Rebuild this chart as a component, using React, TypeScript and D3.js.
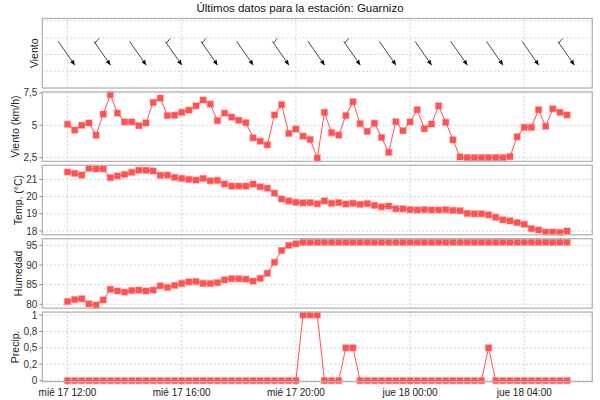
import React from "react";
import * as d3 from "d3";

// ---------- DATA ----------
const startTime = new Date(2024, 0, 17, 12, 0);
const stepMinutes = 15;

const windSpeed = [
  5.08, 4.63, 5.0, 5.18, 4.24, 5.86, 7.37, 5.94, 5.26, 5.26,
  4.97, 5.18, 6.77, 7.1, 5.75, 5.78, 6.0, 6.17, 6.5, 6.95,
  6.64, 5.36, 5.94, 5.63, 5.39, 5.2, 4.03, 3.77, 3.49, 5.8,
  6.59, 4.37, 4.71, 4.16, 3.9, 2.47, 6.0, 4.43, 4.24, 5.75,
  6.82, 5.13, 4.53, 5.16, 4.06, 2.91, 5.28, 4.58, 5.26, 6.2,
  4.74, 5.1, 6.5, 5.23, 3.88, 2.55, 2.5, 2.5, 2.5, 2.5,
  2.5, 2.5, 2.58, 4.11, 4.84, 4.84, 6.2, 4.92, 6.27, 6.0, 5.8,
];

const temperature = [
  21.43, 21.35, 21.25, 21.65, 21.61, 21.61, 21.1, 21.2, 21.29, 21.41,
  21.53, 21.53, 21.49, 21.24, 21.25, 21.12, 21.06, 21.0, 20.96, 21.06,
  20.92, 20.94, 20.73, 20.61, 20.61, 20.61, 20.73, 20.57, 20.49, 20.2,
  19.86, 19.75, 19.67, 19.64, 19.65, 19.58, 19.75, 19.61, 19.65, 19.57,
  19.61, 19.55, 19.59, 19.49, 19.41, 19.45, 19.29, 19.29, 19.24, 19.22,
  19.24, 19.22, 19.22, 19.24, 19.2, 19.18, 19.02, 19.0, 19.0, 18.94,
  18.8, 18.65, 18.59, 18.49, 18.39, 18.14, 18.06, 17.94, 17.94, 17.92, 18.0,
];

const humidity = [
  80.7, 81.2, 81.4, 80.1, 79.8, 81.1, 83.8, 83.4, 83.1, 83.5,
  83.6, 83.4, 83.6, 84.7, 84.3, 84.8, 85.3, 85.7, 85.8, 85.3,
  85.3, 85.5, 86.2, 86.5, 86.5, 86.4, 85.9, 86.6, 87.9, 90.7,
  93.7, 95.0, 95.4, 95.8, 95.8, 95.8, 95.8, 95.8, 95.8, 95.8,
  95.8, 95.8, 95.8, 95.8, 95.8, 95.8, 95.8, 95.8, 95.8, 95.8,
  95.8, 95.8, 95.8, 95.8, 95.8, 95.8, 95.8, 95.8, 95.8, 95.8,
  95.8, 95.8, 95.8, 95.8, 95.8, 95.8, 95.8, 95.8, 95.8, 95.8, 95.8,
];

const precipitation = [
  0, 0, 0, 0, 0, 0, 0, 0, 0, 0,
  0, 0, 0, 0, 0, 0, 0, 0, 0, 0,
  0, 0, 0, 0, 0, 0, 0, 0, 0, 0,
  0, 0, 0, 1, 1, 1, 0, 0, 0, 0.5,
  0.5, 0, 0, 0, 0, 0, 0, 0, 0, 0,
  0, 0, 0, 0, 0, 0, 0, 0, 0, 0.5,
  0, 0, 0, 0, 0, 0, 0, 0, 0, 0, 0,
];

// wind direction (degrees, "from") at every 5th observation
const windDirection = [325, 325, 325, 325, 325, 325, 325, 325, 325, 325, 325, 325, 325, 325, 325];
const barbEvery = 5;

const xTickTimes = [
  new Date(2024, 0, 17, 12, 0),
  new Date(2024, 0, 17, 16, 0),
  new Date(2024, 0, 17, 20, 0),
  new Date(2024, 0, 18, 0, 0),
  new Date(2024, 0, 18, 4, 0),
];
const xTickLabels = ["mié 17 12:00", "mié 17 16:00", "mié 17 20:00", "jue 18 00:00", "jue 18 04:00"];

const title = "Últimos datos para la estación: Guarnizo";

const windTicks = [2.5, 5, 7.5];
const windTickLabels = ["2,5", "5", "7,5"];
const tempTicks = [18, 19, 20, 21];
const tempTickLabels = ["18", "19", "20", "21"];
const humTicks = [80, 85, 90, 95];
const humTickLabels = ["80", "85", "90", "95"];
const precTicks = [0, 0.25, 0.5, 0.75, 1];
const precTickLabels = ["0", "0,2", "0,5", "0,8", "1"];
const barbGridTicks = [1, 2, 3, 4];

// ---------- LAYOUT ----------
const W = 600;
const H = 400;
const left = 42.3;
const right = 592.3;
const top0 = 18.5;
const panelStep = 73.4;
const panelH = 69.5;
const FONT = "'Liberation Sans', Arial, sans-serif";
const RED = "#ff5252";
const GRID = "#d4d4d4";
const BORDER = "#b4b4b4";

const times = windSpeed.map((_, i) => new Date(startTime.getTime() + i * stepMinutes * 60000));
const pad = 53 * 60000;
const x = d3
  .scaleTime()
  .domain([new Date(times[0].getTime() - pad), new Date(times[times.length - 1].getTime() + pad)])
  .range([left, right]);

type Panel = {
  label: string;
  labelX: number;
  domain: [number, number];
  ticks: number[];
  tickLabels: string[];
  values?: number[];
};

const panels: Panel[] = [
  { label: "Viento", labelX: 34.5, domain: [0, 4.15], ticks: barbGridTicks, tickLabels: [] },
  { label: "Viento (km/h)", labelX: 15.5, domain: [2.21, 7.58], ticks: windTicks, tickLabels: windTickLabels, values: windSpeed },
  { label: "Temp. (°C)", labelX: 18.5, domain: [17.78, 21.82], ticks: tempTicks, tickLabels: tempTickLabels, values: temperature },
  { label: "Humedad", labelX: 18.5, domain: [79.0, 96.7], ticks: humTicks, tickLabels: humTickLabels, values: humidity },
  { label: "Precip.", labelX: 15.5, domain: [-0.015, 1.045], ticks: precTicks, tickLabels: precTickLabels, values: precipitation },
];

function PanelView({ p, idx }: { p: Panel; idx: number }) {
  const top = top0 + idx * panelStep;
  const bottom = top + panelH;
  const y = d3.scaleLinear().domain(p.domain).range([bottom, top]);
  const line = d3
    .line<number>()
    .x((_, i) => x(times[i]))
    .y((d) => y(d));
  const midY = (top + bottom) / 2;
  return (
    <g>
      {/* grid */}
      {p.ticks.map((t, i) => (
        <line key={"h" + i} x1={left} x2={right} y1={y(t)} y2={y(t)} stroke={GRID} strokeWidth={1} strokeDasharray="2,2" />
      ))}
      {xTickTimes.map((t, i) => (
        <line key={"v" + i} x1={x(t)} x2={x(t)} y1={top} y2={bottom} stroke={GRID} strokeWidth={1} strokeDasharray="2,2" />
      ))}
      {/* y tick labels */}
      {p.tickLabels.map((lab, i) => (
        <g key={"t" + i}>
          <line x1={left - 3} x2={left} y1={y(p.ticks[i])} y2={y(p.ticks[i])} stroke="#888" strokeWidth={1} />
          <text x={left - 5} y={y(p.ticks[i])} dy="0.35em" textAnchor="end" fontSize={10} fontFamily={FONT} fill="#333">
            {lab}
          </text>
        </g>
      ))}
      {/* axis label */}
      <text
        transform={`translate(${p.labelX},${midY}) rotate(-90)`}
        textAnchor="middle"
        dy="0.35em"
        fontSize={10.5}
        fontFamily={FONT}
        fill="#222"
      >
        {p.label}
      </text>
      {/* series */}
      {p.values && (
        <g>
          <path d={line(p.values) || ""} fill="none" stroke={RED} strokeWidth={1} />
          {p.values.map((v, i) => (
            <rect
              key={i}
              x={x(times[i]) - 3}
              y={y(v) - 3}
              width={6}
              height={6}
              fill={RED}
              stroke="rgba(255,82,82,0.35)"
              strokeWidth={1.5}
            />
          ))}
        </g>
      )}
      {/* wind barbs */}
      {!p.values &&
        windDirection.map((dir, k) => {
          const i = k * barbEvery;
          const cx = x(times[i]) - 1;
          const cy = midY;
          const toward = ((dir + 180) * Math.PI) / 180;
          const ux = Math.sin(toward);
          const uy = -Math.cos(toward);
          const L = 29;
          const tx = cx - (ux * L) / 2;
          const ty = cy - (uy * L) / 2;
          const hx = cx + (ux * L) / 2;
          const hy = cy + (uy * L) / 2;
          const px = -uy;
          const py = ux;
          const ah = 5;
          const aw = 2.2;
          const head = `M${hx},${hy} L${hx - ux * ah + px * aw},${hy - uy * ah + py * aw} L${hx - ux * ah - px * aw},${hy - uy * ah - py * aw} Z`;
          const hasTick = windSpeed[i] > 5.5;
          // tick: attached slightly down the shaft, pointing up-right
          const sx = tx + ux * 2;
          const sy = ty + uy * 2;
          const ta = (-50 * Math.PI) / 180;
          return (
            <g key={"b" + k}>
              <line x1={tx} y1={ty} x2={hx} y2={hy} stroke="#333" strokeWidth={0.9} />
              <path d={head} fill="#111" />
              {hasTick && (
                <line x1={sx} y1={sy} x2={sx + Math.cos(ta) * 6} y2={sy + Math.sin(ta) * 6} stroke="#333" strokeWidth={0.9} />
              )}
            </g>
          );
        })}
      {/* border */}
      <rect x={left} y={top} width={right - left} height={panelH} fill="none" stroke={BORDER} strokeWidth={1.3} />
    </g>
  );
}

export default function App() {
  const bottom = top0 + 4 * panelStep + panelH;
  return (
    <div style={{ position: "absolute", left: 0, top: 0 }}>
      <svg width={W} height={H} style={{ display: "block", background: "#fff" }}>
        <rect width={W} height={H} fill="#fff" />
        <text x={W / 2} y={12} textAnchor="middle" fontSize={11.5} fontFamily={FONT} fill="#111">
          {title}
        </text>
        {panels.map((p, i) => (
          <PanelView key={i} p={p} idx={i} />
        ))}
        {xTickTimes.map((t, i) => (
          <g key={"xt" + i}>
            <line x1={x(t)} x2={x(t)} y1={bottom} y2={bottom + 3} stroke="#888" />
            <text x={x(t)} y={bottom + 14} textAnchor="middle" fontSize={10} fontFamily={FONT} fill="#222">
              {xTickLabels[i]}
            </text>
          </g>
        ))}
      </svg>
    </div>
  );
}
